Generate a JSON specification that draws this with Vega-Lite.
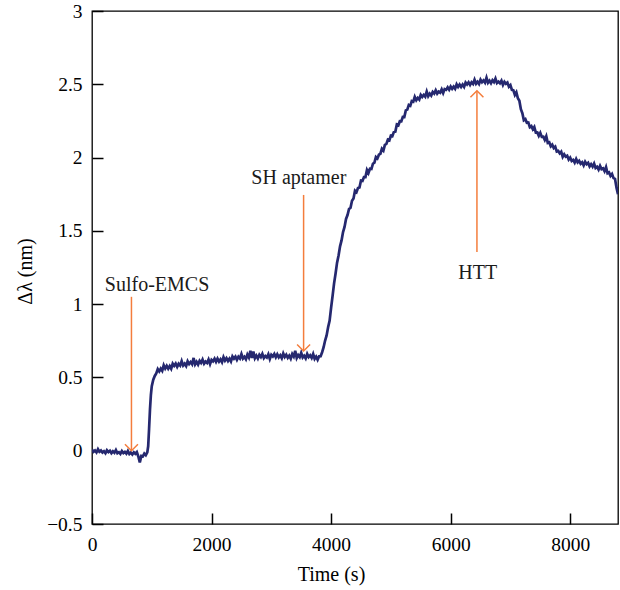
{
  "$schema": "https://vega.github.io/schema/vega-lite/v6.json",
  "autosize": "none",
  "padding": {"left": 92, "top": 11, "right": 2, "bottom": 66},
  "width": 526,
  "height": 513,
  "config": {
    "font": "Liberation Serif",
    "view": {"stroke": "black", "strokeWidth": 1.3},
    "axis": {
      "grid": false,
      "domain": false,
      "offset": -11,
      "tickSize": 11,
      "tickColor": "black",
      "tickWidth": 1.5,
      "labelColor": "black",
      "labelFontSize": 19.5,
      "titleColor": "black",
      "titleFontSize": 20,
      "titleFontWeight": "normal"
    }
  },
  "datasets": {
    "trace": [
      {"t": 0, "d": 0.008}, {"t": 25, "d": -0.007}, {"t": 50, "d": 0.002}, {"t": 75, "d": -0.012},
      {"t": 100, "d": 0.01}, {"t": 125, "d": -0.007}, {"t": 150, "d": 0.002}, {"t": 175, "d": -0.012},
      {"t": 200, "d": -0.003}, {"t": 225, "d": -0.017}, {"t": 250, "d": 0.003}, {"t": 275, "d": -0.009},
      {"t": 300, "d": 0.0}, {"t": 325, "d": -0.017}, {"t": 350, "d": -0.004}, {"t": 375, "d": -0.014},
      {"t": 400, "d": 0.005}, {"t": 425, "d": -0.017}, {"t": 450, "d": -0.01}, {"t": 475, "d": -0.022},
      {"t": 500, "d": -0.002}, {"t": 525, "d": -0.016}, {"t": 550, "d": -0.008}, {"t": 575, "d": -0.02},
      {"t": 600, "d": -0.002}, {"t": 625, "d": -0.023}, {"t": 650, "d": -0.013}, {"t": 675, "d": -0.026},
      {"t": 700, "d": -0.011}, {"t": 725, "d": -0.021}, {"t": 750, "d": -0.01}, {"t": 775, "d": -0.039},
      {"t": 800, "d": -0.08}, {"t": 825, "d": -0.035}, {"t": 850, "d": -0.038}, {"t": 875, "d": -0.019},
      {"t": 900, "d": -0.03}, {"t": 925, "d": -0.011}, {"t": 940, "d": 0.03}, {"t": 955, "d": 0.15},
      {"t": 970, "d": 0.28}, {"t": 985, "d": 0.38}, {"t": 1000, "d": 0.44}, {"t": 1025, "d": 0.485},
      {"t": 1050, "d": 0.51}, {"t": 1075, "d": 0.528},
      {"t": 1100, "d": 0.557}, {"t": 1125, "d": 0.541}, {"t": 1150, "d": 0.56}, {"t": 1175, "d": 0.545},
      {"t": 1200, "d": 0.583}, {"t": 1225, "d": 0.561}, {"t": 1250, "d": 0.579}, {"t": 1275, "d": 0.56},
      {"t": 1300, "d": 0.578}, {"t": 1325, "d": 0.559}, {"t": 1350, "d": 0.594}, {"t": 1375, "d": 0.579},
      {"t": 1400, "d": 0.595}, {"t": 1425, "d": 0.572}, {"t": 1450, "d": 0.593}, {"t": 1475, "d": 0.581},
      {"t": 1500, "d": 0.612}, {"t": 1525, "d": 0.581}, {"t": 1550, "d": 0.594}, {"t": 1575, "d": 0.578},
      {"t": 1600, "d": 0.61}, {"t": 1625, "d": 0.591}, {"t": 1650, "d": 0.605}, {"t": 1675, "d": 0.59},
      {"t": 1700, "d": 0.633}, {"t": 1725, "d": 0.589}, {"t": 1750, "d": 0.607}, {"t": 1775, "d": 0.588},
      {"t": 1800, "d": 0.613}, {"t": 1825, "d": 0.599}, {"t": 1850, "d": 0.622}, {"t": 1875, "d": 0.594},
      {"t": 1900, "d": 0.608}, {"t": 1925, "d": 0.599}, {"t": 1950, "d": 0.622}, {"t": 1975, "d": 0.591},
      {"t": 2000, "d": 0.62}, {"t": 2025, "d": 0.61}, {"t": 2050, "d": 0.628}, {"t": 2075, "d": 0.606},
      {"t": 2100, "d": 0.628}, {"t": 2125, "d": 0.608}, {"t": 2150, "d": 0.623}, {"t": 2175, "d": 0.604},
      {"t": 2200, "d": 0.638}, {"t": 2225, "d": 0.615}, {"t": 2250, "d": 0.631}, {"t": 2275, "d": 0.612},
      {"t": 2300, "d": 0.628}, {"t": 2325, "d": 0.609}, {"t": 2350, "d": 0.643}, {"t": 2375, "d": 0.628},
      {"t": 2400, "d": 0.642}, {"t": 2425, "d": 0.62}, {"t": 2450, "d": 0.641}, {"t": 2475, "d": 0.629},
      {"t": 2500, "d": 0.66}, {"t": 2525, "d": 0.629}, {"t": 2550, "d": 0.641}, {"t": 2575, "d": 0.624},
      {"t": 2600, "d": 0.656}, {"t": 2625, "d": 0.636}, {"t": 2650, "d": 0.682}, {"t": 2675, "d": 0.633},
      {"t": 2700, "d": 0.676}, {"t": 2725, "d": 0.631}, {"t": 2750, "d": 0.649}, {"t": 2775, "d": 0.629},
      {"t": 2800, "d": 0.654}, {"t": 2825, "d": 0.639}, {"t": 2850, "d": 0.661}, {"t": 2875, "d": 0.632},
      {"t": 2900, "d": 0.646}, {"t": 2925, "d": 0.636}, {"t": 2950, "d": 0.658}, {"t": 2975, "d": 0.626},
      {"t": 3000, "d": 0.654}, {"t": 3025, "d": 0.643}, {"t": 3050, "d": 0.66}, {"t": 3075, "d": 0.637},
      {"t": 3100, "d": 0.658}, {"t": 3125, "d": 0.637}, {"t": 3150, "d": 0.651}, {"t": 3175, "d": 0.631},
      {"t": 3200, "d": 0.664}, {"t": 3225, "d": 0.64}, {"t": 3250, "d": 0.655}, {"t": 3275, "d": 0.634},
      {"t": 3300, "d": 0.649}, {"t": 3325, "d": 0.628}, {"t": 3350, "d": 0.66}, {"t": 3375, "d": 0.643},
      {"t": 3400, "d": 0.681}, {"t": 3425, "d": 0.632}, {"t": 3450, "d": 0.652}, {"t": 3475, "d": 0.638},
      {"t": 3500, "d": 0.668}, {"t": 3525, "d": 0.636}, {"t": 3550, "d": 0.648}, {"t": 3575, "d": 0.63},
      {"t": 3600, "d": 0.661}, {"t": 3625, "d": 0.639}, {"t": 3650, "d": 0.651}, {"t": 3675, "d": 0.633},
      {"t": 3700, "d": 0.66}, {"t": 3725, "d": 0.627}, {"t": 3750, "d": 0.642}, {"t": 3775, "d": 0.621},
      {"t": 3800, "d": 0.644}, {"t": 3825, "d": 0.645}, {"t": 3850, "d": 0.672}, {"t": 3875, "d": 0.706},
      {"t": 3900, "d": 0.752}, {"t": 3925, "d": 0.786}, {"t": 3950, "d": 0.842}, {"t": 3975, "d": 0.886},
      {"t": 4000, "d": 0.975}, {"t": 4025, "d": 1.056}, {"t": 4050, "d": 1.142}, {"t": 4075, "d": 1.209},
      {"t": 4100, "d": 1.283}, {"t": 4125, "d": 1.332}, {"t": 4150, "d": 1.394}, {"t": 4175, "d": 1.435},
      {"t": 4200, "d": 1.492}, {"t": 4225, "d": 1.527}, {"t": 4250, "d": 1.581}, {"t": 4275, "d": 1.608},
      {"t": 4300, "d": 1.649}, {"t": 4325, "d": 1.658}, {"t": 4350, "d": 1.705}, {"t": 4375, "d": 1.721},
      {"t": 4400, "d": 1.774}, {"t": 4425, "d": 1.764}, {"t": 4450, "d": 1.792}, {"t": 4475, "d": 1.796},
      {"t": 4500, "d": 1.843}, {"t": 4525, "d": 1.841}, {"t": 4550, "d": 1.867}, {"t": 4575, "d": 1.867},
      {"t": 4600, "d": 1.915}, {"t": 4625, "d": 1.895}, {"t": 4650, "d": 1.924}, {"t": 4675, "d": 1.922},
      {"t": 4700, "d": 1.958}, {"t": 4725, "d": 1.965}, {"t": 4750, "d": 2.004}, {"t": 4775, "d": 1.994},
      {"t": 4800, "d": 2.02}, {"t": 4825, "d": 2.026}, {"t": 4850, "d": 2.06}, {"t": 4875, "d": 2.048},
      {"t": 4900, "d": 2.087}, {"t": 4925, "d": 2.093}, {"t": 4950, "d": 2.122}, {"t": 4975, "d": 2.117},
      {"t": 5000, "d": 2.15}, {"t": 5025, "d": 2.147}, {"t": 5050, "d": 2.174}, {"t": 5075, "d": 2.177},
      {"t": 5100, "d": 2.225}, {"t": 5125, "d": 2.22}, {"t": 5150, "d": 2.248}, {"t": 5175, "d": 2.247},
      {"t": 5200, "d": 2.278}, {"t": 5225, "d": 2.277}, {"t": 5250, "d": 2.322}, {"t": 5275, "d": 2.327},
      {"t": 5300, "d": 2.359}, {"t": 5325, "d": 2.353}, {"t": 5350, "d": 2.385}, {"t": 5375, "d": 2.381},
      {"t": 5400, "d": 2.414}, {"t": 5425, "d": 2.391}, {"t": 5450, "d": 2.407}, {"t": 5475, "d": 2.396},
      {"t": 5500, "d": 2.428}, {"t": 5525, "d": 2.414}, {"t": 5550, "d": 2.427}, {"t": 5575, "d": 2.415},
      {"t": 5600, "d": 2.45}, {"t": 5625, "d": 2.419}, {"t": 5650, "d": 2.436}, {"t": 5675, "d": 2.423},
      {"t": 5700, "d": 2.448}, {"t": 5725, "d": 2.437}, {"t": 5750, "d": 2.459}, {"t": 5775, "d": 2.436},
      {"t": 5800, "d": 2.45}, {"t": 5825, "d": 2.443}, {"t": 5850, "d": 2.465}, {"t": 5875, "d": 2.44},
      {"t": 5900, "d": 2.467}, {"t": 5925, "d": 2.462}, {"t": 5950, "d": 2.479}, {"t": 5975, "d": 2.463},
      {"t": 6000, "d": 2.485}, {"t": 6025, "d": 2.469}, {"t": 6050, "d": 2.484}, {"t": 6075, "d": 2.469},
      {"t": 6100, "d": 2.5}, {"t": 6125, "d": 2.482}, {"t": 6150, "d": 2.498}, {"t": 6175, "d": 2.482},
      {"t": 6200, "d": 2.498}, {"t": 6225, "d": 2.482}, {"t": 6250, "d": 2.512}, {"t": 6275, "d": 2.499},
      {"t": 6300, "d": 2.514}, {"t": 6325, "d": 2.495}, {"t": 6350, "d": 2.514}, {"t": 6375, "d": 2.503},
      {"t": 6400, "d": 2.531}, {"t": 6425, "d": 2.504}, {"t": 6450, "d": 2.517}, {"t": 6475, "d": 2.502},
      {"t": 6500, "d": 2.531}, {"t": 6525, "d": 2.514}, {"t": 6550, "d": 2.526}, {"t": 6575, "d": 2.511},
      {"t": 6600, "d": 2.545}, {"t": 6625, "d": 2.51}, {"t": 6650, "d": 2.524}, {"t": 6675, "d": 2.507},
      {"t": 6700, "d": 2.528}, {"t": 6725, "d": 2.515}, {"t": 6750, "d": 2.539}, {"t": 6775, "d": 2.508},
      {"t": 6800, "d": 2.518}, {"t": 6825, "d": 2.507}, {"t": 6850, "d": 2.524}, {"t": 6875, "d": 2.495},
      {"t": 6900, "d": 2.517}, {"t": 6925, "d": 2.503}, {"t": 6950, "d": 2.512}, {"t": 6975, "d": 2.484},
      {"t": 7000, "d": 2.495}, {"t": 7025, "d": 2.462}, {"t": 7050, "d": 2.459}, {"t": 7075, "d": 2.427},
      {"t": 7100, "d": 2.445}, {"t": 7125, "d": 2.405}, {"t": 7150, "d": 2.388}, {"t": 7175, "d": 2.33},
      {"t": 7200, "d": 2.303}, {"t": 7225, "d": 2.255}, {"t": 7250, "d": 2.262}, {"t": 7275, "d": 2.237},
      {"t": 7300, "d": 2.239}, {"t": 7325, "d": 2.208}, {"t": 7350, "d": 2.215}, {"t": 7375, "d": 2.193},
      {"t": 7400, "d": 2.209}, {"t": 7425, "d": 2.171}, {"t": 7450, "d": 2.172}, {"t": 7475, "d": 2.148},
      {"t": 7500, "d": 2.168}, {"t": 7525, "d": 2.141}, {"t": 7550, "d": 2.142}, {"t": 7575, "d": 2.12},
      {"t": 7600, "d": 2.145}, {"t": 7625, "d": 2.1}, {"t": 7650, "d": 2.104}, {"t": 7675, "d": 2.077},
      {"t": 7700, "d": 2.088}, {"t": 7725, "d": 2.065}, {"t": 7750, "d": 2.074}, {"t": 7775, "d": 2.041},
      {"t": 7800, "d": 2.045}, {"t": 7825, "d": 2.029}, {"t": 7850, "d": 2.04}, {"t": 7875, "d": 2.005},
      {"t": 7900, "d": 2.022}, {"t": 7925, "d": 2.006}, {"t": 7950, "d": 2.012}, {"t": 7975, "d": 1.987},
      {"t": 8000, "d": 2.0}, {"t": 8025, "d": 1.977}, {"t": 8050, "d": 1.984}, {"t": 8075, "d": 1.965},
      {"t": 8100, "d": 1.99}, {"t": 8125, "d": 1.967}, {"t": 8150, "d": 1.978}, {"t": 8175, "d": 1.958},
      {"t": 8200, "d": 1.968}, {"t": 8225, "d": 1.947}, {"t": 8250, "d": 1.972}, {"t": 8275, "d": 1.955},
      {"t": 8300, "d": 1.964}, {"t": 8325, "d": 1.94}, {"t": 8350, "d": 1.955}, {"t": 8375, "d": 1.938},
      {"t": 8400, "d": 1.959}, {"t": 8425, "d": 1.929}, {"t": 8450, "d": 1.937}, {"t": 8475, "d": 1.918},
      {"t": 8500, "d": 1.943}, {"t": 8525, "d": 1.921}, {"t": 8550, "d": 1.927}, {"t": 8575, "d": 1.907},
      {"t": 8600, "d": 1.935}, {"t": 8625, "d": 1.893}, {"t": 8650, "d": 1.899}, {"t": 8675, "d": 1.875},
      {"t": 8700, "d": 1.888}, {"t": 8725, "d": 1.86}, {"t": 8750, "d": 1.855}, {"t": 8775, "d": 1.795},
      {"t": 8800, "d": 1.75}
    ],
    "events": [
      {"label": "Sulfo-EMCS", "t": 660, "tail": 1.05, "tip": 0.0, "dir": "down", "lt": 1088, "ly": 1.09},
      {"label": "SH aptamer", "t": 3540, "tail": 1.745, "tip": 0.68, "dir": "down", "lt": 3460, "ly": 1.817},
      {"label": "HTT", "t": 6440, "tail": 1.355, "tip": 2.456, "dir": "up", "lt": 6453, "ly": 1.169}
    ]
  },
  "layer": [
    {
      "data": {"name": "trace"},
      "mark": {"type": "line", "color": "#25286f", "strokeWidth": 2.7, "clip": true},
      "encoding": {
        "x": {
          "field": "t",
          "type": "quantitative",
          "scale": {"domain": [0, 8800], "nice": false, "zero": false},
          "axis": {
            "title": "Time (s)",
            "values": [0, 2000, 4000, 6000, 8000],
            "format": "d",
            "labelFlush": false,
            "labelPadding": 11,
            "titleX": 239,
            "titleY": 67,
            "titleBaseline": "alphabetic"
          }
        },
        "y": {
          "field": "d",
          "type": "quantitative",
          "scale": {"domain": [-0.5, 3], "nice": false, "zero": false},
          "axis": {
            "title": "Δλ (nm)",
            "values": [-0.5, 0, 0.5, 1, 1.5, 2, 2.5, 3],
            "format": "~g",
            "labelFlush": false,
            "labelPadding": 10,
            "titleAngle": -90,
            "titleX": -72,
            "titleY": 260,
            "titleAlign": "center",
            "titleBaseline": "alphabetic"
          }
        }
      }
    },
    {
      "data": {"name": "events"},
      "mark": {"type": "rule", "color": "#f47d3c", "strokeWidth": 1.5},
      "encoding": {
        "x": {"field": "t", "type": "quantitative"},
        "y": {"field": "tail", "type": "quantitative"},
        "y2": {"field": "tip"}
      }
    },
    {
      "data": {"name": "events"},
      "mark": {"type": "point", "filled": false, "stroke": "#f47d3c", "strokeWidth": 1.5, "size": 169, "opacity": 1},
      "encoding": {
        "x": {"field": "t", "type": "quantitative"},
        "y": {"field": "tip", "type": "quantitative"},
        "shape": {
          "field": "dir",
          "type": "nominal",
          "scale": {"domain": ["down", "up"], "range": ["M-1,-1L0,0L1,-1", "M-1,1L0,0L1,1"]},
          "legend": null
        }
      }
    },
    {
      "data": {"name": "events"},
      "mark": {"type": "text", "fontSize": 20, "color": "#1a1a1a", "align": "center", "baseline": "alphabetic"},
      "encoding": {
        "x": {"field": "lt", "type": "quantitative"},
        "y": {"field": "ly", "type": "quantitative"},
        "text": {"field": "label"}
      }
    }
  ]
}
